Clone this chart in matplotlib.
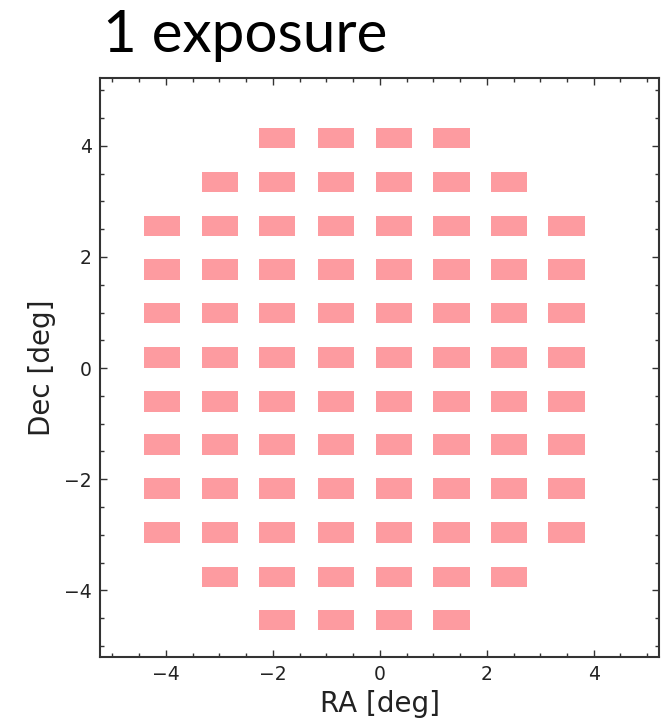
import matplotlib
matplotlib.use("Agg")
import matplotlib.pyplot as plt
from matplotlib.ticker import MultipleLocator

# Chip layout (degrees)
col_centers = [-4.07, -2.99, -1.92, -0.82, 0.26, 1.34, 2.42, 3.49]
row_centers = [4.14, 3.35, 2.56, 1.77, 0.99, 0.19, -0.60, -1.38, -2.17, -2.96, -3.76, -4.53]
row_cols = [
    [2, 3, 4, 5],
    [1, 2, 3, 4, 5, 6],
    [0, 1, 2, 3, 4, 5, 6, 7],
    [0, 1, 2, 3, 4, 5, 6, 7],
    [0, 1, 2, 3, 4, 5, 6, 7],
    [0, 1, 2, 3, 4, 5, 6, 7],
    [0, 1, 2, 3, 4, 5, 6, 7],
    [0, 1, 2, 3, 4, 5, 6, 7],
    [0, 1, 2, 3, 4, 5, 6, 7],
    [0, 1, 2, 3, 4, 5, 6, 7],
    [1, 2, 3, 4, 5, 6],
    [2, 3, 4, 5],
]
chip_w = 0.68
chip_h = 0.37
title_text = "1 exposure"
xlabel = "RA [deg]"
ylabel = "Dec [deg]"
xticks = [-4, -2, 0, 2, 4]
yticks = [-4, -2, 0, 2, 4]

fig = plt.figure(figsize=(6.7, 7.22), dpi=100)
ax = fig.add_axes([0.1493, 0.0900, 0.8343, 0.8019])

chip_color = "#fd9ba0"
for yc, cols in zip(row_centers, row_cols):
    xs = [col_centers[i] for i in cols]
    ax.bar(xs, chip_h, width=chip_w, bottom=yc - chip_h / 2,
           color=chip_color, edgecolor="none", linewidth=0)

ax.set_xlim(-5.23, 5.22)
ax.set_ylim(-5.2, 5.22)
ax.set_xticks(xticks)
ax.set_yticks(yticks)
ax.xaxis.set_minor_locator(MultipleLocator(0.5))
ax.yaxis.set_minor_locator(MultipleLocator(0.5))
ax.tick_params(which="both", direction="in", top=True, right=True,
               color="#333333", width=1.0)
ax.tick_params(which="major", length=5, pad=6, labelsize=13.5,
               labelcolor="#222222")
ax.tick_params(which="minor", length=3)
for sp in ax.spines.values():
    sp.set_linewidth(1.5)
    sp.set_color("#333333")

ax.set_xlabel(xlabel, fontsize=20, color="#222222", labelpad=4)
ax.set_ylabel(ylabel, fontsize=20, color="#222222", labelpad=6)

fig.text(103 / 670, 1 - 52 / 722, title_text, fontsize=42,
         family=["Lato", "DejaVu Sans"], ha="left", va="baseline",
         color="black")

fig.savefig("out.png", dpi=100)
